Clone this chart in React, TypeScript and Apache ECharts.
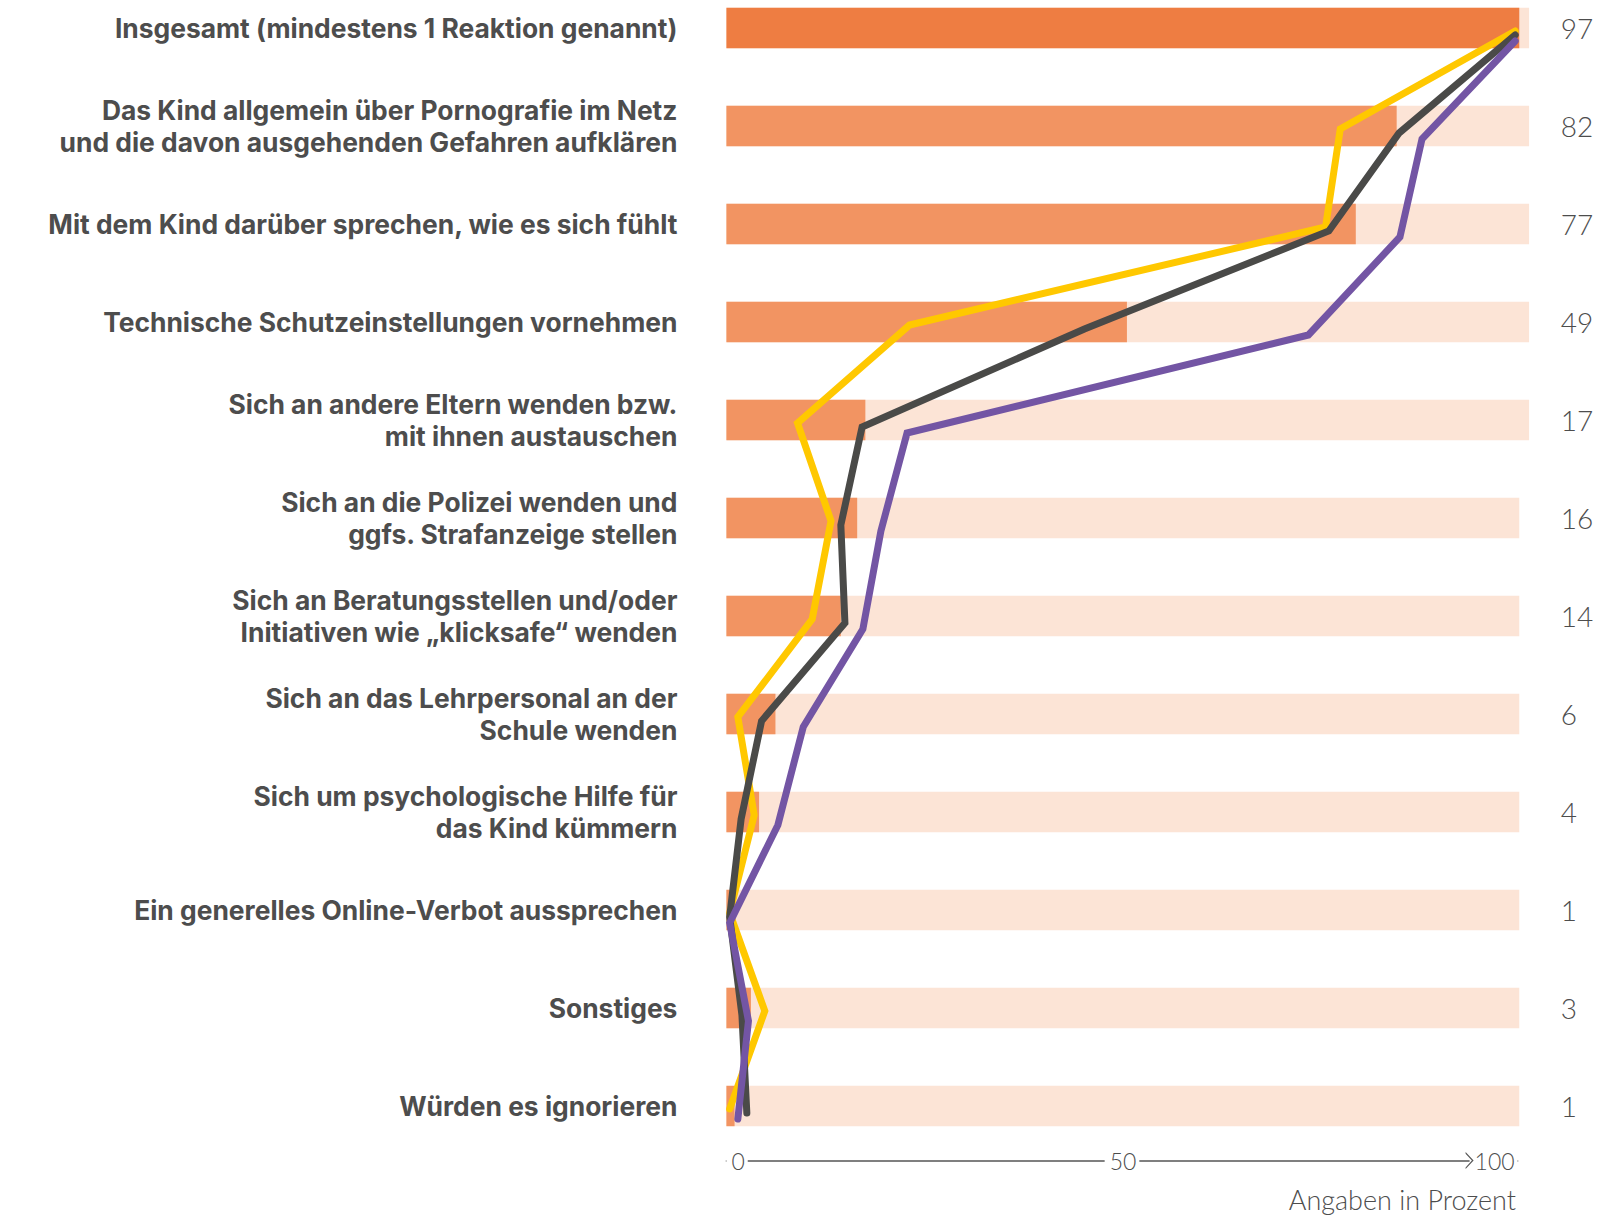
import React, { useEffect, useRef } from 'react';
import * as echarts from 'echarts';

const categories = [
  'Insgesamt (mindestens 1 Reaktion genannt)',
  'Das Kind allgemein über Pornografie im Netz\nund die davon ausgehenden Gefahren aufklären',
  'Mit dem Kind darüber sprechen, wie es sich fühlt',
  'Technische Schutzeinstellungen vornehmen',
  'Sich an andere Eltern wenden bzw.\nmit ihnen austauschen',
  'Sich an die Polizei wenden und\nggfs. Strafanzeige stellen',
  'Sich an Beratungsstellen und/oder\nInitiativen wie „klicksafe“ wenden',
  'Sich an das Lehrpersonal an der\nSchule wenden',
  'Sich um psychologische Hilfe für\ndas Kind kümmern',
  'Ein generelles Online-Verbot aussprechen',
  'Sonstiges',
  'Würden es ignorieren',
];

const totalValues = [97, 82, 77, 49, 17, 16, 14, 6, 4, 1, 3, 1];
const trackValues = [98.2, 98.2, 98.2, 98.2, 98.2, 97, 97, 97, 97, 97, 97, 97];
const yellowValues = [96.5, 75.1, 73.3, 22.4, 8.7, 12.8, 10.5, 1.4, 3.4, 0.4, 4.7, 0.4];
const darkValues = [96.5, 82.3, 73.7, 43.8, 16.6, 14.0, 14.5, 4.3, 1.8, 0.4, 1.9, 2.5];
const purpleValues = [96.5, 85.1, 82.4, 71.2, 22.1, 18.9, 16.7, 9.4, 6.3, 0.4, 2.7, 1.4];
const axisMin = 0;
const axisMax = 100;
const axisStep = 50;
const unitLabel = 'Angaben in Prozent';

const LABEL_FONT = 'Inter, "Open Sans", "Noto Sans", sans-serif';
const FONT = 'Lato, "Open Sans", "Noto Sans", sans-serif';
const TEXT = '#4d4d4d';
const SHIFT = 21;

export default function App() {
  const ref = useRef<HTMLDivElement>(null);

  useEffect(() => {
    document.body.style.margin = '0';
    const chart = echarts.init(ref.current!, undefined, { renderer: 'svg' });

    const plotLeft = 726.4;
    const plotWidth = 817.4;
    const rowTop = 0;
    const rowHeight = 1176;
    const lineShift = [3, 7, 13];

    const lineGrid = (dy: number) => ({ left: plotLeft, width: plotWidth, top: rowTop + dy, height: rowHeight });
    const hiddenX = (g: number) => ({ gridIndex: g, type: 'value', min: axisMin, max: axisMax, show: false });
    const hiddenY = (g: number) => ({ gridIndex: g, type: 'category', inverse: true, data: categories, show: false });

    const lineSeries = (name: string, data: number[], color: string, idx: number) => ({
      name,
      type: 'line',
      xAxisIndex: idx + 1,
      yAxisIndex: idx + 2,
      data,
      symbol: 'none',
      silent: true,
      lineStyle: { color, width: 7, cap: 'round', join: 'miter' },
      z: 5 + idx,
    });

    chart.setOption({
      animation: false,
      title: {
        text: unitLabel,
        right: 86,
        top: 1186 + SHIFT,
        padding: 0,
        textStyle: { fontFamily: FONT, fontSize: 27, fontWeight: 300, color: TEXT },
      },
      grid: [
        { left: plotLeft, width: plotWidth, top: rowTop, height: rowHeight },
        lineGrid(lineShift[0]),
        lineGrid(lineShift[1]),
        lineGrid(lineShift[2]),
        { left: plotLeft, width: 791.2, top: 1100 + SHIFT, height: 60.6 },
      ],
      xAxis: [
        hiddenX(0),
        hiddenX(1),
        hiddenX(2),
        hiddenX(3),
        {
          gridIndex: 4,
          type: 'value',
          min: axisMin,
          max: axisMax,
          interval: axisStep,
          position: 'bottom',
          axisLine: {
            show: true,
            onZero: false,
            lineStyle: { color: '#555555', width: 1.5 },
            symbol: ['none', 'path://M0,8 L8.5,0 L17,8 L15.3,8 L8.5,1.7 L1.7,8 Z'],
            symbolSize: [17, 8],
            symbolOffset: [0, -48],
          },
          axisTick: { show: false },
          splitLine: { show: false },
          axisLabel: {
            margin: 0,
            verticalAlign: 'middle',
            alignMinLabel: 'left',
            alignMaxLabel: 'right',
            backgroundColor: '#ffffff',
            padding: [2, 3, 2, 5],
            fontFamily: FONT,
            fontSize: 23,
            fontWeight: 300,
            color: TEXT,
          },
        },
      ],
      yAxis: [
        {
          gridIndex: 0,
          type: 'category',
          inverse: true,
          data: categories,
          axisLine: { show: false },
          axisTick: { show: false },
          axisLabel: {
            margin: 49,
            fontFamily: LABEL_FONT,
            fontSize: 26.4,
            fontWeight: 'bold',
            lineHeight: 32,
            color: TEXT,
          },
        },
        {
          gridIndex: 0,
          type: 'category',
          inverse: true,
          position: 'right',
          data: totalValues.map(String),
          axisLine: { show: false },
          axisTick: { show: false },
          axisLabel: {
            margin: 17,
            align: 'left',
            fontFamily: FONT,
            fontSize: 28,
            fontWeight: 300,
            color: TEXT,
          },
        },
        hiddenY(1),
        hiddenY(2),
        hiddenY(3),
        { gridIndex: 4, type: 'value', show: false },
      ],
      series: [
        {
          name: 'track',
          type: 'bar',
          xAxisIndex: 0,
          yAxisIndex: 0,
          data: trackValues,
          barWidth: 40.4,
          silent: true,
          itemStyle: { color: '#FCE4D6' },
          z: 1,
        },
        {
          name: 'Gesamt',
          type: 'bar',
          xAxisIndex: 0,
          yAxisIndex: 0,
          data: totalValues,
          barWidth: 40.4,
          barGap: '-100%',
          silent: true,
          itemStyle: {
            color: (p: any) => (p.dataIndex === 0 ? '#EE7D42' : '#F29462'),
          },
          z: 2,
        },
        lineSeries('Gruppe A', yellowValues, '#FFC800', 0),
        lineSeries('Gruppe B', darkValues, '#4A4A48', 1),
        lineSeries('Gruppe C', purpleValues, '#7355A4', 2),
      ],
    });

    return () => chart.dispose();
  }, []);

  return <div ref={ref} style={{ width: 1602, height: 1216 + SHIFT, marginTop: -SHIFT }} />;
}
